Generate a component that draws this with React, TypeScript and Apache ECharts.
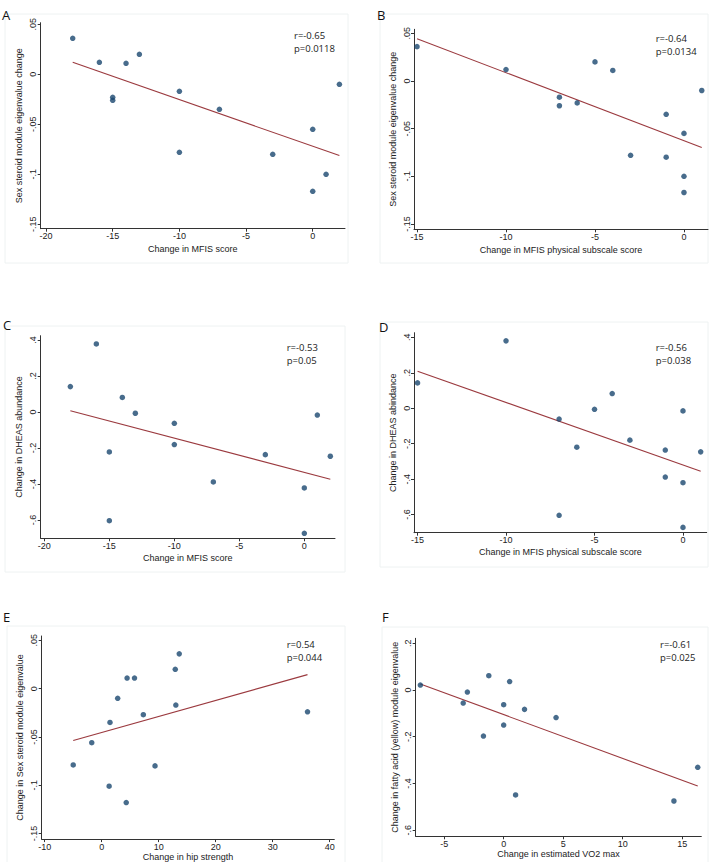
import React, { useEffect, useRef } from "react";
import * as echarts from "echarts";

// ---------- data ----------
const mfisA = [-18, -16, -14, -13, -15, -15, -10, -7, -10, -3, 0, 1, 0, 2];
const sexSteroidA = [0.036, 0.012, 0.011, 0.020, -0.023, -0.026, -0.017, -0.035, -0.078, -0.080, -0.055, -0.100, -0.117, -0.010];

const mfisPhysB = [-15, -10, -7, -7, -6, -5, -4, -3, -1, -1, 0, 0, 0, 1];
const sexSteroidB = [0.036, 0.012, -0.017, -0.026, -0.023, 0.020, 0.011, -0.078, -0.035, -0.080, -0.055, -0.100, -0.117, -0.010];

const mfisC = [-18, -16, -14, -13, -15, -15, -10, -10, -7, -3, 0, 0, 1, 2];
const dheasC = [0.141, 0.378, 0.081, -0.007, -0.222, -0.604, -0.063, -0.181, -0.389, -0.237, -0.422, -0.674, -0.017, -0.246];

const mfisPhysD = [-15, -10, -7, -7, -6, -5, -4, -3, -1, -1, 0, 0, 0, 1];
const dheasD = [0.143, 0.380, -0.061, -0.604, -0.220, -0.006, 0.083, -0.180, -0.236, -0.388, -0.015, -0.420, -0.672, -0.246];

const hipE = [-5, -1.75, 1.3, 1.45, 2.8, 4.3, 4.45, 5.75, 7.3, 9.35, 12.9, 13, 13.6, 36.1];
const sexSteroidE = [-0.079, -0.056, -0.101, -0.035, -0.010, -0.118, 0.011, 0.011, -0.027, -0.080, 0.020, -0.017, 0.036, -0.024];

const vo2F = [-7, -3.4, -3.05, -1.7, -1.25, 0, 0, 0.5, 1, 1.75, 4.4, 14.3, 16.3];
const fattyF = [0.021, -0.056, -0.009, -0.197, 0.061, -0.063, -0.150, 0.036, -0.449, -0.083, -0.118, -0.475, -0.331];

// fitted-line end points (x, y)
const fitAx = [-18, 2];
const fitAy = [0.012, -0.0813];
const fitBx = [-15, 1];
const fitBy = [0.0444, -0.0699];
const fitCx = [-18, 2];
const fitCy = [0.0074, -0.374];
const fitDx = [-15, 1];
const fitDy = [0.209, -0.355];
const fitEx = [-5, 36.1];
const fitEy = [-0.0538, 0.0145];
const fitFx = [-7, 16.3];
const fitFy = [0.0257, -0.411];

// correlation annotations
const rTexts = ["r=-0.65", "r=-0.64", "r=-0.53", "r=-0.56", "r=0.54", "r=-0.61"];
const pTexts = ["p=0.0118", "p=0.0134", "p=0.05", "p=0.038", "p=0.044", "p=0.025"];
const panelLetters = ["A", "B", "C", "D", "E", "F"];

// tick values
const ticksSex = [0.05, 0, -0.05, -0.1, -0.15];
const ticksDheas = [0.4, 0.2, 0, -0.2, -0.4, -0.6];
const ticksFatty = [0.2, 0, -0.2, -0.4, -0.6];
const ticksMfis = [-20, -15, -10, -5, 0];
const ticksMfisPhys = [-15, -10, -5, 0];
const ticksHip = [-10, 0, 10, 20, 30, 40];
const ticksVo2 = [-5, 0, 5, 10, 15];

// axis titles
const xTitles = [
  "Change in MFIS score",
  "Change in MFIS physical subscale score",
  "Change in MFIS score",
  "Change in MFIS physical subscale score",
  "Change in hip strength",
  "Change in estimated VO2 max",
];
const yTitles = [
  "Sex steroid module eigenvalue change",
  "Sex steroid module eigenvalue change",
  "Change in DHEAS abundance",
  "Change in DHEAS abindance",
  "Change in Sex steroid module eigenvalue",
  "Change in fatty acid (yellow) module eigenvalue",
];

// ---------- layout ----------
type Layout = {
  left: number; right: number; top: number; bottom: number;
  xMin: number; xMax: number; yMin: number; yMax: number;
  xGap: number; yGap: number;
  rx: number; ry: number; lx: number; ly: number;
  box: [number, number, number, number];
};

const layouts: Layout[] = [
  { left: 40.7, right: 345, top: 22.7, bottom: 228.7, xMin: -20.4, xMax: 2.42, yMin: -0.1544, yMax: 0.0516, xGap: 16, yGap: 17, rx: 294, ry: 29, lx: 2, ly: 8, box: [5, 14, 343, 249] },
  { left: 414, right: 708, top: 29.3, bottom: 229.3, xMin: -15.17, xMax: 1.35, yMin: -0.1556, yMax: 0.0542, xGap: 16, yGap: 17, rx: 655.7, ry: 31.7, lx: 377, ly: 8, box: [380, 14, 328, 249] },
  { left: 40.7, right: 335, top: 335.7, bottom: 538.3, xMin: -20.28, xMax: 2.36, yMin: -0.702, yMax: 0.424, xGap: 15, yGap: 17, rx: 286.7, ry: 340.7, lx: 3, ly: 318, box: [5, 326, 340, 246] },
  { left: 414, right: 706.7, top: 332.7, bottom: 532.7, xMin: -15.2, xMax: 1.34, yMin: -0.702, yMax: 0.426, xGap: 15, yGap: 17, rx: 655.7, ry: 340.7, lx: 379, ly: 320, box: [380, 322, 328, 245] },
  { left: 41.7, right: 334.3, top: 636, bottom: 839.3, xMin: -10.53, xMax: 40.8, yMin: -0.1558, yMax: 0.0545, xGap: 12, yGap: 17, rx: 286.7, ry: 638.3, lx: 3, ly: 610, box: [7, 626, 338, 240] },
  { left: 415.7, right: 701.3, top: 638.3, bottom: 836.3, xMin: -7.39, xMax: 16.6, yMin: -0.626, yMax: 0.221, xGap: 11, yGap: 16, rx: 660, ry: 638.3, lx: 382, ly: 610, box: [382, 627, 326, 240] },
];

const xs = [mfisA, mfisPhysB, mfisC, mfisPhysD, hipE, vo2F];
const ys = [sexSteroidA, sexSteroidB, dheasC, dheasD, sexSteroidE, fattyF];
const fitXs = [fitAx, fitBx, fitCx, fitDx, fitEx, fitFx];
const fitYs = [fitAy, fitBy, fitCy, fitDy, fitEy, fitFy];
const yTicks = [ticksSex, ticksSex, ticksDheas, ticksDheas, ticksSex, ticksFatty];
const xTicks = [ticksMfis, ticksMfisPhys, ticksMfis, ticksMfisPhys, ticksHip, ticksVo2];

const fmt = (v: number) => {
  const s = String(+v.toFixed(3));
  return s.replace(/^(-?)0\./, "$1.");
};

const AXIS_FONT = "'Liberation Sans', Arial, sans-serif";
const ANNOT_FONT = "'Open Sans', 'Noto Sans', sans-serif";
const AXIS_COLOR = "#333";
const TEXT_COLOR = "#222";
const DOT = "#1a476f";
const LINE = "#9b3a3f";

export default function App() {
  const ref = useRef<HTMLDivElement>(null);

  useEffect(() => {
    if (!ref.current) return;
    const chart = echarts.init(ref.current, undefined, { renderer: "svg" });

    const grid: any[] = [];
    const xAxis: any[] = [];
    const yAxis: any[] = [];
    const series: any[] = [];
    const graphic: any[] = [];

    layouts.forEach((L, i) => {
      grid.push({
        left: L.left,
        top: L.top,
        width: L.right - L.left,
        height: L.bottom - L.top,
        containLabel: false,
      });
      xAxis.push({
        type: "value",
        gridIndex: i,
        min: L.xMin,
        max: L.xMax,
        splitLine: { show: false },
        axisLine: { show: true, onZero: false, lineStyle: { color: AXIS_COLOR, width: 1 } },
        axisTick: { show: true, length: 3, customValues: xTicks[i], lineStyle: { color: AXIS_COLOR } },
        axisLabel: {
          show: true,
          customValues: xTicks[i],
          formatter: (v: number) => fmt(v),
          color: TEXT_COLOR,
          fontFamily: AXIS_FONT,
          fontSize: 9,
          margin: 3,
        },
        name: xTitles[i],
        nameLocation: "middle",
        nameGap: L.xGap,
        nameTextStyle: { color: TEXT_COLOR, fontFamily: AXIS_FONT, fontSize: 9 },
      });
      yAxis.push({
        type: "value",
        gridIndex: i,
        min: L.yMin,
        max: L.yMax,
        splitLine: { show: false },
        axisLine: { show: true, onZero: false, lineStyle: { color: AXIS_COLOR, width: 1 } },
        axisTick: { show: true, length: 3, customValues: yTicks[i], lineStyle: { color: AXIS_COLOR } },
        axisLabel: {
          show: true,
          customValues: yTicks[i],
          formatter: (v: number) => fmt(v),
          rotate: 90,
          color: TEXT_COLOR,
          fontFamily: AXIS_FONT,
          fontSize: 9,
          margin: 3,
        },
        name: yTitles[i],
        nameLocation: "middle",
        nameRotate: 90,
        nameGap: L.yGap,
        nameTextStyle: { color: TEXT_COLOR, fontFamily: AXIS_FONT, fontSize: 9 },
      });
      series.push({
        type: "line",
        xAxisIndex: i,
        yAxisIndex: i,
        data: fitXs[i].map((x, k) => [x, fitYs[i][k]]),
        showSymbol: false,
        symbol: "none",
        lineStyle: { color: LINE, width: 1.1 },
        z: 2,
      });
      series.push({
        type: "scatter",
        xAxisIndex: i,
        yAxisIndex: i,
        data: xs[i].map((x, k) => [x, ys[i][k]]),
        symbol: "circle",
        symbolSize: 5.5,
        itemStyle: { color: DOT },
        z: 3,
      });
      graphic.push({
        type: "rect",
        shape: { x: L.box[0], y: L.box[1], width: L.box[2], height: L.box[3] },
        style: { fill: "none", stroke: "#eef2f2", lineWidth: 1 },
        z: -1,
        silent: true,
      });
      graphic.push({
        type: "text",
        x: L.rx,
        y: L.ry,
        style: {
          text: rTexts[i] + "\n" + pTexts[i],
          fill: TEXT_COLOR,
          font: `9.5px ${ANNOT_FONT}`,
          lineHeight: 13,
        },
      });
      graphic.push({
        type: "text",
        x: L.lx,
        y: L.ly,
        style: {
          text: panelLetters[i],
          fill: "#111",
          font: `13px ${ANNOT_FONT}`,
        },
      });
    });

    chart.setOption({
      animation: false,
      backgroundColor: "#ffffff",
      grid,
      xAxis,
      yAxis,
      series,
      graphic,
    });

    return () => chart.dispose();
  }, []);

  return (
    <div
      ref={ref}
      style={{ position: "fixed", left: 0, top: 0, width: 709, height: 862, background: "#fff" }}
    />
  );
}
